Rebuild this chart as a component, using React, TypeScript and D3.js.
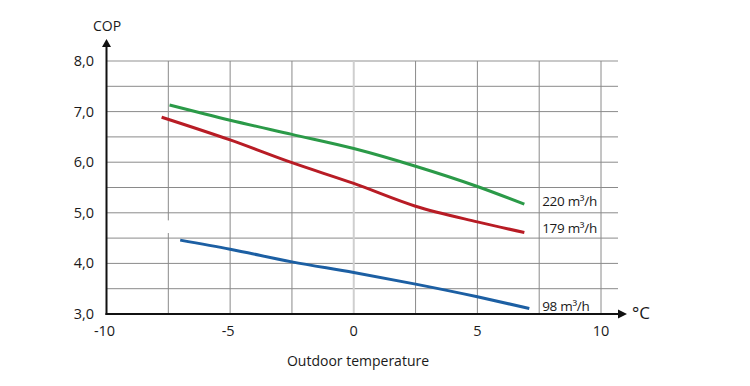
import React from "react";
import * as d3 from "d3";

const xTicks = [-10, -5, 0, 5, 10];
const xGrid = [-7.5, -5, -2.5, 0, 2.5, 5, 7.5, 10];
const yTicks = [3, 4, 5, 6, 7, 8];
const yGrid = [3.5, 4, 4.5, 5, 5.5, 6, 6.5, 7, 7.5, 8];

const greenX = [-7.45, -5, -2.5, 0, 2.5, 5, 6.9];
const greenY = [7.13, 6.83, 6.55, 6.27, 5.92, 5.52, 5.17];
const redX = [-7.77, -5, -2.5, 0, 2.5, 5, 6.9];
const redY = [6.89, 6.44, 5.99, 5.58, 5.13, 4.82, 4.61];
const blueX = [-7.02, -5, -2.5, 0, 2.5, 5, 7.1];
const blueY = [4.46, 4.28, 4.03, 3.82, 3.59, 3.34, 3.11];

const seriesNames = ["220 m³/h", "179 m³/h", "98 m³/h"];
const seriesColors = ["#2b9a48", "#b81c25", "#1c5fa3"];
const labelValues = [5.13, 4.6, 3.06];

export default function App() {
  const x = d3.scaleLinear().domain([-10, 10]).range([106.5, 601]);
  const y = d3.scaleLinear().domain([3, 8]).range([314, 61]);
  const font = "'Open Sans', sans-serif";
  const line = d3
    .line<[number, number]>()
    .x((d) => x(d[0]))
    .y((d) => y(d[1]))
    .curve(d3.curveMonotoneX);
  const series = [
    { xs: greenX, ys: greenY },
    { xs: redX, ys: redY },
    { xs: blueX, ys: blueY },
  ];
  const gridRight = 618;
  const gapTop = y(4.85);
  const gapBottom = y(4.6);
  const ink = "#1a1a1a";
  return (
    <svg
      width={750}
      height={386}
      style={{ position: "absolute", left: 0, top: 0, background: "#fff" }}
    >
      {/* horizontal grid */}
      {yGrid.map((v) => (
        <line
          key={"h" + v}
          x1={x(-10)}
          x2={gridRight}
          y1={y(v)}
          y2={y(v)}
          stroke={v === 8 ? "#c8c8c8" : "#8a8a8a"}
          strokeWidth={v === 8 ? 2 : 1}
        />
      ))}
      {/* vertical grid */}
      {xGrid.map((v) =>
        v === -7.5 ? (
          <g key={"v" + v}>
            <line x1={x(v)} x2={x(v)} y1={y(8)} y2={gapTop} stroke="#8a8a8a" strokeWidth={1} />
            <line x1={x(v)} x2={x(v)} y1={gapBottom} y2={y(3)} stroke="#8a8a8a" strokeWidth={1} />
          </g>
        ) : (
          <line
            key={"v" + v}
            x1={x(v)}
            x2={x(v)}
            y1={y(8)}
            y2={y(3)}
            stroke={v === 0 ? "#cfcfcf" : "#8a8a8a"}
            strokeWidth={v === 0 ? 2 : 1}
          />
        )
      )}
      {/* series */}
      {series.map((s, i) => (
        <path
          key={"s" + i}
          d={line(s.xs.map((v, j) => [v, s.ys[j]] as [number, number])) || ""}
          fill="none"
          stroke={seriesColors[i]}
          strokeWidth={3}
          strokeLinecap="butt"
        />
      ))}
      {/* series labels */}
      {series.map((s, i) => (
        <text
          key={"l" + i}
          x={x(7.5) + 3}
          y={y(labelValues[i])}
          fontFamily={font}
          fontSize={13.5}
          letterSpacing={-0.3}
          fill={ink}
        >
          {seriesNames[i]}
        </text>
      ))}
      {/* axes */}
      <line x1={x(-10)} x2={x(-10)} y1={y(3) + 1} y2={46} stroke="#111" strokeWidth={2} />
      <path d={`M${x(-10) - 4.5},47 L${x(-10)},39 L${x(-10) + 4.5},47 Z`} fill="#111" />
      <line x1={x(-10) - 1} x2={619} y1={y(3)} y2={y(3)} stroke="#111" strokeWidth={2} />
      <path d={`M618,${y(3) - 4.5} L627,${y(3)} L618,${y(3) + 4.5} Z`} fill="#111" />
      {/* y tick labels */}
      {yTicks.map((v) => (
        <text
          key={"yt" + v}
          x={94}
          y={y(v) + 5}
          textAnchor="end"
          fontFamily={font}
          fontSize={14.5}
          fill={ink}
        >
          {d3.format(".1f")(v).replace(".", ",")}
        </text>
      ))}
      {/* x tick labels */}
      {xTicks.map((v) => (
        <text
          key={"xt" + v}
          x={x(v) - (v < 0 ? 2 : 0)}
          y={336}
          textAnchor="middle"
          fontFamily={font}
          fontSize={14.5}
          fill={ink}
        >
          {v < 0 ? "-" + Math.abs(v) : String(v)}
        </text>
      ))}
      <text x={107} y={31} textAnchor="middle" fontFamily={font} fontSize={14} fill={ink}>
        COP
      </text>
      <text x={632} y={319} fontFamily={font} fontSize={17} fill={ink}>
        °C
      </text>
      <text x={358} y={366} textAnchor="middle" fontFamily={font} fontSize={14} fill={ink}>
        Outdoor temperature
      </text>
    </svg>
  );
}
